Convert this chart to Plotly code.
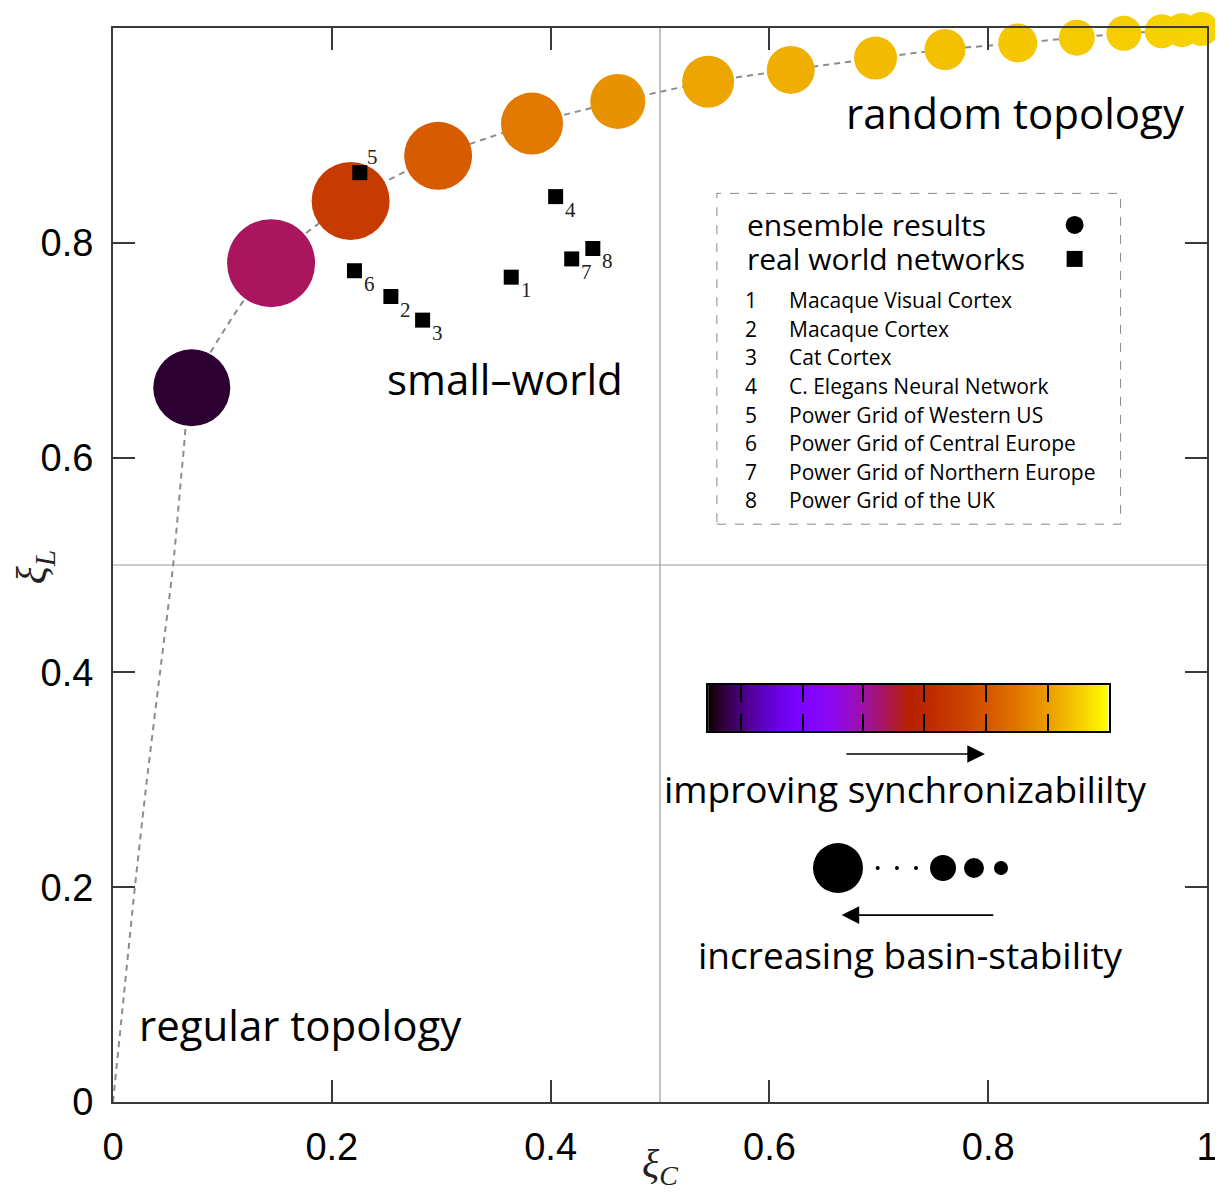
import numpy as np
import plotly.graph_objects as go

# ---------------- data ----------------
# ensemble results: clustering xi_C, path length xi_L, synchronizability (colour), basin stability (size)
ens_xi_c = [0.072, 0.1445, 0.2172, 0.2972, 0.383, 0.4614, 0.544, 0.6195, 0.697, 0.7605,
            0.827, 0.881, 0.924, 0.9586, 0.977, 0.995]
ens_xi_l = [0.665, 0.781, 0.839, 0.881, 0.911, 0.9316, 0.950, 0.961, 0.972, 0.980,
            0.986, 0.991, 0.995, 0.997, 0.998, 0.999]
ens_sync = [0.03, 0.44, 0.61, 0.71, 0.78, 0.83, 0.865, 0.88, 0.90, 0.91,
            0.92, 0.925, 0.93, 0.935, 0.935, 0.94]
ens_basin = [0.77, 0.88, 0.78, 0.68, 0.62, 0.55, 0.52, 0.48, 0.43, 0.41,
             0.39, 0.36, 0.35, 0.34, 0.34, 0.34]

# lower part of the dashed ensemble curve (towards the regular topology)
curve_xi_c = [0.0, 0.010, 0.020, 0.031, 0.043, 0.055, 0.064]
curve_xi_l = [0.0, 0.100, 0.200, 0.300, 0.400, 0.500, 0.600]

# real world networks
rw_ids = ["1", "2", "3", "4", "5", "6", "7", "8"]
rw_xi_c = [0.364, 0.254, 0.283, 0.4046, 0.2256, 0.2207, 0.4193, 0.4386]
rw_xi_l = [0.768, 0.750, 0.728, 0.843, 0.8653, 0.774, 0.785, 0.7947]
rw_names = ["Macaque Visual Cortex", "Macaque Cortex", "Cat Cortex",
            "C. Elegans Neural Network", "Power Grid of Western US",
            "Power Grid of Central Europe", "Power Grid of Northern Europe",
            "Power Grid of the UK"]

x_ticks = [0, 0.2, 0.4, 0.6, 0.8, 1]
x_ticklabels = ["0", "0.2", "0.4", "0.6", "0.8", "1"]
y_ticks = [0, 0.2, 0.4, 0.6, 0.8, 1]
y_ticklabels = ["0", "0.2", "0.4", "0.6", "0.8", "1"]
cb_ticks = [0.081, 0.236, 0.387, 0.540, 0.694, 0.849]

# basin-stability glyph legend (relative sizes)
glyph_basin = [0.50, 0.26, 0.20, 0.14]

# ---------------- styling helpers ----------------
def gnuplot_rgb(v):
    r = np.sqrt(v)
    g = v ** 3
    b = np.clip(np.sin(2 * np.pi * v), 0, 1)
    return "rgb({},{},{})".format(int(round(r * 255)), int(round(g * 255)), int(round(b * 255)))

colorscale = [[float(v), gnuplot_rgb(v)] for v in np.linspace(0, 1, 101)]

SANS = "Open Sans"
SERIF = "Liberation Serif"
TICKFONT = "Liberation Sans"
GRID = "#9a9a9a"
FRAME = "#3a3a3a"
BLACK_MARK = dict(color="black", opacity=1, line=dict(width=0, color="black"))

fig = go.Figure()

# dashed curve through ensemble results
fig.add_trace(go.Scatter(
    x=curve_xi_c + ens_xi_c, y=curve_xi_l + ens_xi_l, mode="lines",
    line=dict(color="#8c8c8c", width=2, dash="6px,5px", shape="spline", smoothing=0.6),
    hoverinfo="skip", showlegend=False, cliponaxis=False))

# ensemble circles
fig.add_trace(go.Scatter(
    x=ens_xi_c, y=ens_xi_l, mode="markers",
    marker=dict(symbol="circle", size=ens_basin, sizemode="diameter", sizeref=0.01,
                color=ens_sync, colorscale=colorscale, cmin=0, cmax=1,
                line=dict(width=0), opacity=1, showscale=False),
    showlegend=False, cliponaxis=False))

# real world networks
fig.add_trace(go.Scatter(
    x=rw_xi_c, y=rw_xi_l, mode="markers",
    marker=dict(symbol="square", size=15, **BLACK_MARK),
    showlegend=False, cliponaxis=False, text=rw_names))

# legend symbols inside box
fig.add_trace(go.Scatter(
    x=[0.879, 0.879], y=[0.8166, 0.785], mode="markers",
    marker=dict(symbol=["circle", "square"], size=[18, 16], **BLACK_MARK),
    showlegend=False, hoverinfo="skip"))

# basin-stability glyphs
fig.add_trace(go.Scatter(
    x=[0.6627, 0.7587, 0.787, 0.8117], y=[0.2179] * 4, mode="markers",
    marker=dict(symbol="circle", size=glyph_basin, sizemode="diameter", sizeref=0.01, **BLACK_MARK),
    showlegend=False, hoverinfo="skip"))
fig.add_trace(go.Scatter(
    x=[0.699, 0.7166, 0.734], y=[0.2179] * 3, mode="markers",
    marker=dict(symbol="circle", size=4, **BLACK_MARK),
    showlegend=False, hoverinfo="skip"))

# colour bar drawn as heatmap on its own axes
n = 256
fig.add_trace(go.Heatmap(
    z=[list(np.linspace(0, 1, n))], x0=0.5 / n, dx=1.0 / n, y0=0.5, dy=1,
    colorscale=colorscale, zmin=0, zmax=1, showscale=False,
    xaxis="x2", yaxis="y2", hoverinfo="skip"))

annotations = []
# real-world labels
offsets = {"5": (13, 16)}
for cx, cy, lab in zip(rw_xi_c, rw_xi_l, rw_ids):
    dx, dy = offsets.get(lab, (15, -13))
    annotations.append(dict(x=cx, y=cy, xref="x", yref="y", text=lab, showarrow=False,
                            xshift=dx, yshift=dy, font=dict(family=SERIF, size=21, color="#222")))

# region labels
for xx, yy, txt in [(0.8245, 0.921, "random topology"),
                    (0.358, 0.674, "small\u2013world"),
                    (0.171, 0.0717, "regular topology")]:
    annotations.append(dict(x=xx, y=yy, xref="x", yref="y", showarrow=False, text=txt,
                            font=dict(family=SANS, size=42, color="black")))

# legend box texts
for yy, txt in [(0.8166, "ensemble results"), (0.785, "real world networks")]:
    annotations.append(dict(x=0.578, y=yy, xref="x", yref="y", xanchor="left", showarrow=False,
                            text=txt, font=dict(family=SANS, size=30, color="black")))

row_y = [0.7467, 0.7197, 0.6937, 0.6667, 0.6397, 0.6136, 0.5866, 0.5605]
for yy, lab, name in zip(row_y, rw_ids, rw_names):
    annotations.append(dict(x=0.583, y=yy, xref="x", yref="y", text=lab, showarrow=False,
                            font=dict(family=SANS, size=21, color="black")))
    annotations.append(dict(x=0.616, y=yy, xref="x", yref="y", text=name, showarrow=False,
                            xanchor="left", font=dict(family=SANS, size=21, color="black")))

# colour / size key texts and arrows
annotations += [
    dict(x=0.724, y=0.292, xref="x", yref="y", showarrow=False, text="improving synchronizabililty",
         font=dict(family=SANS, size=37, color="black")),
    dict(x=0.7294, y=0.1369, xref="x", yref="y", showarrow=False, text="increasing basin-stability",
         font=dict(family=SANS, size=37, color="black")),
    dict(x=0.797, y=0.324, ax=0.669, ay=0.324, xref="x", yref="y", axref="x", ayref="y",
         text="", showarrow=True, arrowhead=2, arrowsize=2.2, arrowwidth=1.6, arrowcolor="black"),
    dict(x=0.666, y=0.174, ax=0.806, ay=0.174, xref="x", yref="y", axref="x", ayref="y",
         text="", showarrow=True, arrowhead=2, arrowsize=2.2, arrowwidth=1.6, arrowcolor="black"),
]

# axis titles
annotations += [
    dict(x=0.5, y=0, xref="paper", yref="paper", xanchor="center", yanchor="middle",
         yshift=-64, showarrow=False,
         text="<i>\u03be</i><sub><i>C</i></sub>", font=dict(family=SERIF, size=40, color="#222")),
    dict(x=0, y=0.498, xref="paper", yref="paper", xanchor="center", yanchor="middle",
         xshift=-78, showarrow=False, textangle=-90,
         text="<i>\u03be</i><sub><i>L</i></sub>", font=dict(family=SERIF, size=42, color="#222")),
]

shapes = [
    dict(type="line", xref="x", yref="paper", x0=0.5, x1=0.5, y0=0, y1=1,
         line=dict(color=GRID, width=1.2), layer="below"),
    dict(type="line", xref="paper", yref="y", x0=0, x1=1, y0=0.5, y1=0.5,
         line=dict(color=GRID, width=1.2), layer="below"),
    dict(type="rect", xref="x", yref="y", x0=0.552, x1=0.921, y0=0.538, y1=0.846,
         line=dict(color="#888888", width=1, dash="dash"), layer="below"),
]

axis_common = dict(range=[0, 1], ticks="inside", ticklen=22, tickwidth=2, tickcolor=FRAME,
                   showline=True, linecolor=FRAME, linewidth=2, mirror="ticks",
                   showgrid=False, zeroline=False, automargin=False, ticklabelstandoff=10,
                   tickfont=dict(family=TICKFONT, size=38, color="black"))

# the page adds an 8px body margin, so the margins compensate for it
fig.update_layout(
    width=1223, height=1193,
    margin=dict(l=105, r=24, t=20, b=99, autoexpand=False),
    paper_bgcolor="white", plot_bgcolor="white",
    showlegend=False,
    xaxis=dict(axis_common, tickvals=x_ticks, ticktext=x_ticklabels, domain=[0, 1]),
    yaxis=dict(axis_common, tickvals=y_ticks, ticktext=y_ticklabels, domain=[0, 1]),
    xaxis2=dict(domain=[0.544, 0.910], anchor="y2", range=[0, 1], tickvals=cb_ticks,
                ticks="inside", ticklen=17, tickwidth=1.5, tickcolor="black",
                showline=True, linecolor="black", linewidth=1.5, mirror="ticks",
                showticklabels=False, showgrid=False, zeroline=False, automargin=False),
    yaxis2=dict(domain=[0.3454, 0.3883], anchor="x2", range=[0, 1],
                showline=True, linecolor="black", linewidth=1.5, mirror=True,
                ticks="", showticklabels=False, showgrid=False, zeroline=False, automargin=False),
    annotations=annotations,
    shapes=shapes,
)

fig.write_html("out.html")
